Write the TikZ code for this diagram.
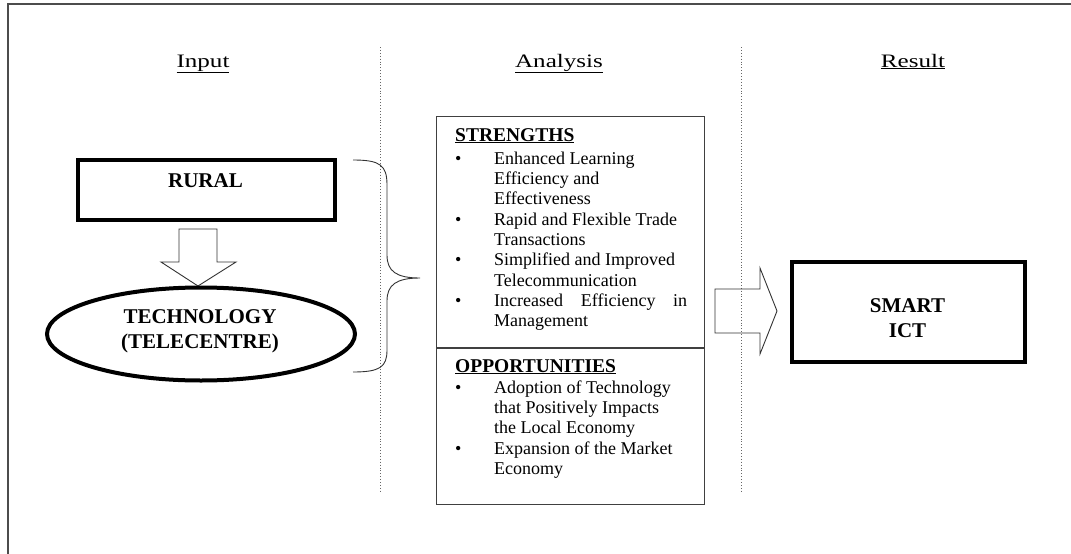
\documentclass[tikz,border=0pt]{standalone}
\usepackage{fontspec}
\setmainfont{Liberation Serif}
\newfontfamily\labelfont[FakeStretch=1.32]{Liberation Serif}
\usetikzlibrary{shapes.geometric}
\begin{document}
\begin{tikzpicture}
    [x=1pt, y=-1pt,
      every node/.style={inner sep=0pt},
      heading/.style={font=\labelfont\fontsize{19}{22}\selectfont, anchor=base},
      thickbox/.style={draw, rectangle, line width=4pt},
      boxtext/.style={font=\fontsize{21}{25}\selectfont\bfseries, anchor=base, align=center},
      panel/.style={draw=black!75, rectangle, line width=1pt, anchor=north west},
      listtext/.style={anchor=base west, font=\fontsize{18}{20.3}\selectfont},
      blockarrow/.style={draw=black!80, line width=0.9pt},
      divider/.style={draw=black!60, dotted, line width=0.9pt}]

  \useasboundingbox (0,0) rectangle (1071,554);
  \draw[black!70, line width=1.5pt] (1071,4) -- (8,4) -- (8,554);

  % column titles
  \node[heading] (input) at (203,67) {\underline{Input}};
  \node[heading] (analysis) at (559,67) {\underline{Analysis}};
  \node[heading] (result) at (913,67) {\underline{Result}};
  \draw[divider] (380,47) -- (380,492);
  \draw[divider] (741,47) -- (741,492);

  % input
  \node[thickbox, minimum width=257pt, minimum height=60pt] (rural) at (206.5,190) {};
  \node[boxtext] (ruraltext) at (205.5,187) {RURAL};
  \draw[blockarrow] (179,229) -- (217,229) -- (217,262) -- (236,262)
    -- (198,286) -- (161,262) -- (179,262) -- cycle;
  \node[ellipse, draw, line width=4pt, minimum width=308pt, minimum height=93pt]
    (technology) at (201,334) {};
  \node[boxtext] (techtext) at (200,348) {TECHNOLOGY\\(TELECENTRE)};
  \draw[black!80, line width=0.9pt] (353,160) .. controls (380,160) and (387,165) .. (387,185)
    -- (387,255) .. controls (387,271) and (396,278) .. (420,278)
    .. controls (396,278) and (387,285) .. (387,301)
    -- (387,350) .. controls (387,367) and (380,372) .. (353,372);

  % analysis
  \node[panel, minimum width=268pt, minimum height=231pt] (strengths) at (436,116) {};
  \node[panel, minimum width=268pt, minimum height=156pt] (opportunities) at (strengths.south west) {};
  \node[listtext] (strlist) at (455,141) {%
    \begin{tabular}[t]{@{}p{39pt}@{}p{193pt}@{}}
      \multicolumn{2}{@{}l@{}}{\fontsize{19.5}{20.3}\selectfont\bfseries\underline{STRENGTHS}}\\[3pt]
      \textbullet & Enhanced Learning\\
                  & Efficiency and\\
                  & Effectiveness\\
      \textbullet & Rapid and Flexible Trade\\
                  & Transactions\\
      \textbullet & Simplified and Improved\\
                  & Telecommunication\\
      \textbullet & Increased\hfill Efficiency\hfill in\\
                  & Management
    \end{tabular}};
  \node[listtext] (opplist) at (455,372) {%
    \begin{tabular}[t]{@{}p{39pt}@{}p{193pt}@{}}
      \multicolumn{2}{@{}l@{}}{\fontsize{19.5}{20.3}\selectfont\bfseries\underline{OPPORTUNITIES}}\\[1pt]
      \textbullet & Adoption of Technology\\
                  & that Positively Impacts\\
                  & the Local  Economy\\
      \textbullet & Expansion of the Market\\
                  & Economy
    \end{tabular}};

  % result
  \draw[blockarrow] (715,289) -- (760,289) -- (760,268) -- (777,311)
    -- (760,354) -- (760,333) -- (715,333) -- cycle;
  \node[thickbox, minimum width=233pt, minimum height=100pt] (smartict) at (908.5,312) {};
  \node[boxtext] (smarttext) at (907.5,337) {SMART\\ICT};
\end{tikzpicture}
\end{document}
